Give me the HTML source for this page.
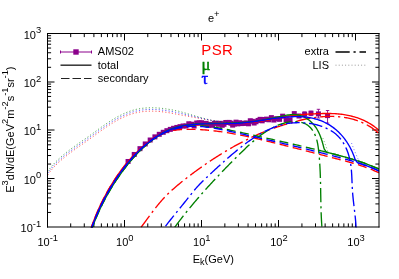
<!DOCTYPE html>
<html><head><meta charset="utf-8"><title>e+</title>
<style>html,body{margin:0;padding:0;background:#fff;width:399px;height:279px;overflow:hidden}body{position:relative;font-family:"Liberation Sans",sans-serif}</style>
</head><body>
<svg width="399" height="279" viewBox="0 0 399 279" style="position:absolute;left:0;top:0;will-change:transform">
<rect width="399" height="279" fill="#fff"/>
<defs><clipPath id="c"><rect x="47.5" y="33.5" width="331.5" height="194"/></clipPath></defs>
<g stroke="#000" stroke-width="1" fill="none">
<path d="M70.70,227.00 v-3.6 M70.70,33.50 v3.6"/>
<path d="M84.27,227.00 v-3.6 M84.27,33.50 v3.6"/>
<path d="M93.90,227.00 v-3.6 M93.90,33.50 v3.6"/>
<path d="M101.37,227.00 v-3.6 M101.37,33.50 v3.6"/>
<path d="M107.48,227.00 v-3.6 M107.48,33.50 v3.6"/>
<path d="M112.64,227.00 v-3.6 M112.64,33.50 v3.6"/>
<path d="M117.11,227.00 v-3.6 M117.11,33.50 v3.6"/>
<path d="M121.05,227.00 v-3.6 M121.05,33.50 v3.6"/>
<path d="M124.50,227.00 v-7 M124.50,33.50 v7"/>
<path d="M147.78,227.00 v-3.6 M147.78,33.50 v3.6"/>
<path d="M161.35,227.00 v-3.6 M161.35,33.50 v3.6"/>
<path d="M170.98,227.00 v-3.6 M170.98,33.50 v3.6"/>
<path d="M178.45,227.00 v-3.6 M178.45,33.50 v3.6"/>
<path d="M184.55,227.00 v-3.6 M184.55,33.50 v3.6"/>
<path d="M189.71,227.00 v-3.6 M189.71,33.50 v3.6"/>
<path d="M194.18,227.00 v-3.6 M194.18,33.50 v3.6"/>
<path d="M198.12,227.00 v-3.6 M198.12,33.50 v3.6"/>
<path d="M201.50,227.00 v-7 M201.50,33.50 v7"/>
<path d="M224.85,227.00 v-3.6 M224.85,33.50 v3.6"/>
<path d="M238.42,227.00 v-3.6 M238.42,33.50 v3.6"/>
<path d="M248.05,227.00 v-3.6 M248.05,33.50 v3.6"/>
<path d="M255.52,227.00 v-3.6 M255.52,33.50 v3.6"/>
<path d="M261.62,227.00 v-3.6 M261.62,33.50 v3.6"/>
<path d="M266.78,227.00 v-3.6 M266.78,33.50 v3.6"/>
<path d="M271.25,227.00 v-3.6 M271.25,33.50 v3.6"/>
<path d="M275.20,227.00 v-3.6 M275.20,33.50 v3.6"/>
<path d="M278.50,227.00 v-7 M278.50,33.50 v7"/>
<path d="M301.93,227.00 v-3.6 M301.93,33.50 v3.6"/>
<path d="M315.50,227.00 v-3.6 M315.50,33.50 v3.6"/>
<path d="M325.13,227.00 v-3.6 M325.13,33.50 v3.6"/>
<path d="M332.60,227.00 v-3.6 M332.60,33.50 v3.6"/>
<path d="M338.70,227.00 v-3.6 M338.70,33.50 v3.6"/>
<path d="M343.86,227.00 v-3.6 M343.86,33.50 v3.6"/>
<path d="M348.33,227.00 v-3.6 M348.33,33.50 v3.6"/>
<path d="M352.27,227.00 v-3.6 M352.27,33.50 v3.6"/>
<path d="M355.50,227.00 v-7 M355.50,33.50 v7"/>
<path d="M47.50,212.44 h3.6 M379.00,212.44 h-3.6"/>
<path d="M47.50,203.92 h3.6 M379.00,203.92 h-3.6"/>
<path d="M47.50,197.88 h3.6 M379.00,197.88 h-3.6"/>
<path d="M47.50,193.19 h3.6 M379.00,193.19 h-3.6"/>
<path d="M47.50,189.36 h3.6 M379.00,189.36 h-3.6"/>
<path d="M47.50,186.12 h3.6 M379.00,186.12 h-3.6"/>
<path d="M47.50,183.31 h3.6 M379.00,183.31 h-3.6"/>
<path d="M47.50,180.84 h3.6 M379.00,180.84 h-3.6"/>
<path d="M47.50,178.50 h7 M379.00,178.50 h-7"/>
<path d="M47.50,164.06 h3.6 M379.00,164.06 h-3.6"/>
<path d="M47.50,155.54 h3.6 M379.00,155.54 h-3.6"/>
<path d="M47.50,149.50 h3.6 M379.00,149.50 h-3.6"/>
<path d="M47.50,144.81 h3.6 M379.00,144.81 h-3.6"/>
<path d="M47.50,140.98 h3.6 M379.00,140.98 h-3.6"/>
<path d="M47.50,137.74 h3.6 M379.00,137.74 h-3.6"/>
<path d="M47.50,134.94 h3.6 M379.00,134.94 h-3.6"/>
<path d="M47.50,132.46 h3.6 M379.00,132.46 h-3.6"/>
<path d="M47.50,130.00 h7 M379.00,130.00 h-7"/>
<path d="M47.50,115.69 h3.6 M379.00,115.69 h-3.6"/>
<path d="M47.50,107.17 h3.6 M379.00,107.17 h-3.6"/>
<path d="M47.50,101.13 h3.6 M379.00,101.13 h-3.6"/>
<path d="M47.50,96.44 h3.6 M379.00,96.44 h-3.6"/>
<path d="M47.50,92.61 h3.6 M379.00,92.61 h-3.6"/>
<path d="M47.50,89.37 h3.6 M379.00,89.37 h-3.6"/>
<path d="M47.50,86.56 h3.6 M379.00,86.56 h-3.6"/>
<path d="M47.50,84.09 h3.6 M379.00,84.09 h-3.6"/>
<path d="M47.50,82.00 h7 M379.00,82.00 h-7"/>
<path d="M47.50,67.31 h3.6 M379.00,67.31 h-3.6"/>
<path d="M47.50,58.79 h3.6 M379.00,58.79 h-3.6"/>
<path d="M47.50,52.75 h3.6 M379.00,52.75 h-3.6"/>
<path d="M47.50,48.06 h3.6 M379.00,48.06 h-3.6"/>
<path d="M47.50,44.23 h3.6 M379.00,44.23 h-3.6"/>
<path d="M47.50,40.99 h3.6 M379.00,40.99 h-3.6"/>
<path d="M47.50,38.19 h3.6 M379.00,38.19 h-3.6"/>
<path d="M47.50,35.71 h3.6 M379.00,35.71 h-3.6"/>
</g>
<g clip-path="url(#c)" fill="none" stroke-linecap="butt" stroke-linejoin="round">
<rect x="125.57" y="158.99" width="5" height="5" fill="#8b008b" stroke="none"/>
<rect x="131.74" y="151.96" width="5" height="5" fill="#8b008b" stroke="none"/>
<rect x="137.48" y="146.16" width="5" height="5" fill="#8b008b" stroke="none"/>
<rect x="142.75" y="141.44" width="5" height="5" fill="#8b008b" stroke="none"/>
<rect x="147.69" y="137.51" width="5" height="5" fill="#8b008b" stroke="none"/>
<rect x="152.40" y="134.37" width="5" height="5" fill="#8b008b" stroke="none"/>
<rect x="156.77" y="131.82" width="5" height="5" fill="#8b008b" stroke="none"/>
<rect x="160.75" y="129.80" width="5" height="5" fill="#8b008b" stroke="none"/>
<rect x="164.39" y="128.18" width="5" height="5" fill="#8b008b" stroke="none"/>
<rect x="167.80" y="126.88" width="5" height="5" fill="#8b008b" stroke="none"/>
<rect x="171.09" y="125.80" width="5" height="5" fill="#8b008b" stroke="none"/>
<rect x="174.33" y="124.93" width="5" height="5" fill="#8b008b" stroke="none"/>
<rect x="177.51" y="124.15" width="5" height="5" fill="#8b008b" stroke="none"/>
<rect x="180.56" y="123.49" width="5" height="5" fill="#8b008b" stroke="none"/>
<rect x="183.49" y="123.46" width="5" height="5" fill="#8b008b" stroke="none"/>
<rect x="186.31" y="121.26" width="5" height="5" fill="#8b008b" stroke="none"/>
<rect x="189.02" y="121.74" width="5" height="5" fill="#8b008b" stroke="none"/>
<rect x="191.63" y="123.49" width="5" height="5" fill="#8b008b" stroke="none"/>
<rect x="194.17" y="120.49" width="5" height="5" fill="#8b008b" stroke="none"/>
<rect x="196.64" y="120.35" width="5" height="5" fill="#8b008b" stroke="none"/>
<rect x="199.03" y="120.24" width="5" height="5" fill="#8b008b" stroke="none"/>
<rect x="201.33" y="120.96" width="5" height="5" fill="#8b008b" stroke="none"/>
<rect x="203.58" y="120.91" width="5" height="5" fill="#8b008b" stroke="none"/>
<rect x="205.77" y="122.87" width="5" height="5" fill="#8b008b" stroke="none"/>
<rect x="207.91" y="121.85" width="5" height="5" fill="#8b008b" stroke="none"/>
<rect x="209.99" y="122.83" width="5" height="5" fill="#8b008b" stroke="none"/>
<rect x="212.02" y="120.83" width="5" height="5" fill="#8b008b" stroke="none"/>
<rect x="214.01" y="120.82" width="5" height="5" fill="#8b008b" stroke="none"/>
<rect x="215.95" y="121.82" width="5" height="5" fill="#8b008b" stroke="none"/>
<rect x="217.87" y="120.82" width="5" height="5" fill="#8b008b" stroke="none"/>
<rect x="219.73" y="122.81" width="5" height="5" fill="#8b008b" stroke="none"/>
<rect x="221.49" y="121.80" width="5" height="5" fill="#8b008b" stroke="none"/>
<rect x="223.25" y="119.98" width="5" height="5" fill="#8b008b" stroke="none"/>
<rect x="224.99" y="119.96" width="5" height="5" fill="#8b008b" stroke="none"/>
<rect x="226.73" y="119.93" width="5" height="5" fill="#8b008b" stroke="none"/>
<rect x="228.44" y="120.68" width="5" height="5" fill="#8b008b" stroke="none"/>
<rect x="230.14" y="122.62" width="5" height="5" fill="#8b008b" stroke="none"/>
<rect x="231.82" y="121.55" width="5" height="5" fill="#8b008b" stroke="none"/>
<rect x="233.54" y="119.66" width="5" height="5" fill="#8b008b" stroke="none"/>
<rect x="235.29" y="121.35" width="5" height="5" fill="#8b008b" stroke="none"/>
<rect x="237.01" y="120.23" width="5" height="5" fill="#8b008b" stroke="none"/>
<rect x="238.75" y="121.08" width="5" height="5" fill="#8b008b" stroke="none"/>
<rect x="240.54" y="120.91" width="5" height="5" fill="#8b008b" stroke="none"/>
<rect x="242.34" y="120.73" width="5" height="5" fill="#8b008b" stroke="none"/>
<rect x="244.13" y="120.52" width="5" height="5" fill="#8b008b" stroke="none"/>
<rect x="245.96" y="121.30" width="5" height="5" fill="#8b008b" stroke="none"/>
<rect x="247.80" y="118.26" width="5" height="5" fill="#8b008b" stroke="none"/>
<rect x="249.70" y="118.81" width="5" height="5" fill="#8b008b" stroke="none"/>
<rect x="251.61" y="120.54" width="5" height="5" fill="#8b008b" stroke="none"/>
<rect x="253.54" y="119.25" width="5" height="5" fill="#8b008b" stroke="none"/>
<rect x="255.55" y="117.95" width="5" height="5" fill="#8b008b" stroke="none"/>
<rect x="257.60" y="116.84" width="5" height="5" fill="#8b008b" stroke="none"/>
<rect x="259.69" y="118.32" width="5" height="5" fill="#8b008b" stroke="none"/>
<rect x="261.86" y="116.98" width="5" height="5" fill="#8b008b" stroke="none"/>
<rect x="264.10" y="116.63" width="5" height="5" fill="#8b008b" stroke="none"/>
<rect x="266.44" y="117.28" width="5" height="5" fill="#8b008b" stroke="none"/>
<rect x="268.90" y="115.11" width="5" height="5" fill="#8b008b" stroke="none"/>
<rect x="271.46" y="117.55" width="5" height="5" fill="#8b008b" stroke="none"/>
<rect x="274.18" y="116.18" width="5" height="5" fill="#8b008b" stroke="none"/>
<rect x="277.04" y="116.82" width="5" height="5" fill="#8b008b" stroke="none"/>
<rect x="280.13" y="113.67" width="5" height="5" fill="#8b008b" stroke="none"/>
<rect x="283.64" y="117.30" width="5" height="5" fill="#8b008b" stroke="none"/>
<rect x="287.54" y="117.30" width="5" height="5" fill="#8b008b" stroke="none"/>
<rect x="291.78" y="111.10" width="5" height="5" fill="#8b008b" stroke="none"/>
<rect x="296.54" y="113.50" width="5" height="5" fill="#8b008b" stroke="none"/>
<rect x="302.10" y="111.60" width="5" height="5" fill="#8b008b" stroke="none"/>
<rect x="308.49" y="110.70" width="5" height="5" fill="#8b008b" stroke="none"/>
<rect x="315.94" y="111.40" width="5" height="5" fill="#8b008b" stroke="none"/>
<rect x="325.06" y="113.10" width="5" height="5" fill="#8b008b" stroke="none"/>
<path d="M304.60,112.00 V116.30 M302.90,112.00 h3.4 M302.90,116.30 h3.4" stroke="#8b008b" stroke-width="0.9"/>
<path d="M310.99,111.20 V115.60 M309.29,111.20 h3.4 M309.29,115.60 h3.4" stroke="#8b008b" stroke-width="0.9"/>
<path d="M318.44,109.30 V118.00 M316.74,109.30 h3.4 M316.74,118.00 h3.4" stroke="#8b008b" stroke-width="0.9"/>
<path d="M327.56,110.50 V123.10 M325.86,110.50 h3.4 M325.86,123.10 h3.4" stroke="#8b008b" stroke-width="0.9"/>
<path d="M90.62,229.51 L91.04,228.24 L91.48,226.96 L91.92,225.69 L92.37,224.43 L92.83,223.16 L93.29,221.90 L93.77,220.65 L94.25,219.39 L94.74,218.14 L95.24,216.90 L95.75,215.65 L96.26,214.41 L96.78,213.18 L97.31,211.94 L97.85,210.71 L98.40,209.49 L98.95,208.26 L99.51,207.04 L100.08,205.83 L100.66,204.61 L101.24,203.41 L101.84,202.20 L102.44,201.00 L103.04,199.80 L103.66,198.61 L104.28,197.42 L104.90,196.23 L105.54,195.05 L106.18,193.87 L106.83,192.69 L107.49,191.52 L108.15,190.35 L108.82,189.19 L109.50,188.03 L110.18,186.87 L110.87,185.72 L111.57,184.57 L112.27,183.43 L112.98,182.29 L113.70,181.15 L114.43,180.02 L115.16,178.90 L115.89,177.78 L116.64,176.66 L117.39,175.55 L118.15,174.44 L118.92,173.34 L119.69,172.24 L120.47,171.17 L121.26,170.11 L122.05,169.05 L122.86,168.01 L123.67,166.97 L124.49,165.93 L125.32,164.91 L126.15,163.89 L126.99,162.87 L127.84,161.87 L128.70,160.87 L129.57,159.87 L130.44,158.89 L131.33,157.91 L132.22,156.94 L133.12,155.98 L134.03,155.02 L134.95,154.08 L135.87,153.14 L136.81,152.21 L137.75,151.28 L138.70,150.37 L139.66,149.47 L140.64,148.57 L141.62,147.68 L142.61,146.81 L143.61,145.94 L144.61,145.08 L145.63,144.24 L146.66,143.40 L147.71,142.58 L148.76,141.77 L149.82,140.97 L150.89,140.19 L151.98,139.42 L153.08,138.66 L154.18,137.91 L155.30,137.18 L156.43,136.47 L157.58,135.77 L158.73,135.10 L159.89,134.44 L161.06,133.80 L162.25,133.19 L163.44,132.60 L164.64,132.03 L165.85,131.49 L167.07,130.98 L168.29,130.49 L169.53,130.04 L170.77,129.61 L172.02,129.21 L173.27,128.83 L174.54,128.48 L175.81,128.13 L177.09,127.79 L178.37,127.47 L179.66,127.17 L180.95,126.89 L182.25,126.64 L183.56,126.40 L184.87,126.18 L186.18,125.98 L187.50,125.79 L188.83,125.63 L190.15,125.47 L191.49,125.34 L192.82,125.21 L194.16,125.10 L195.50,125.00 L196.84,124.91 L198.19,124.84 L199.54,124.77 L200.89,124.71 L202.24,124.65 L203.60,124.61 L204.95,124.57 L206.31,124.53 L207.67,124.50 L209.03,124.48 L210.38,124.45 L211.74,124.43 L213.10,124.41 L214.46,124.39 L215.81,124.37 L217.17,124.34 L218.52,124.32 L219.88,124.29 L221.23,124.25 L222.58,124.22 L223.93,124.17 L225.28,124.13 L226.62,124.08 L227.96,124.02 L229.31,123.96 L230.65,123.90 L231.99,123.83 L233.33,123.75 L234.66,123.68 L236.00,123.59 L237.34,123.50 L238.67,123.41 L240.00,123.31 L241.34,123.21 L242.67,123.10 L244.00,122.99 L245.33,122.87 L246.66,122.75 L247.98,122.62 L249.31,122.48 L250.64,122.34 L251.97,122.20 L253.29,122.05 L254.62,121.89 L255.94,121.73 L257.27,121.56 L258.59,121.39 L259.92,121.21 L261.24,121.03 L262.57,120.84 L263.89,120.64 L265.22,120.44 L266.54,120.24 L267.87,120.02 L269.19,119.80 L270.52,119.56 L271.84,119.28 L273.17,119.00 L274.49,118.71 L275.82,118.42 L277.15,118.13 L278.47,117.84 L279.80,117.55 L281.13,117.27 L282.46,117.04 L283.78,116.81 L285.11,116.59 L286.44,116.37 L287.77,116.17 L289.10,115.97 L290.43,115.79 L291.75,115.61 L293.08,115.45 L294.41,115.30 L295.74,115.16 L297.07,115.02 L298.41,114.90 L299.74,114.78 L301.07,114.67 L302.41,114.57 L303.74,114.47 L305.08,114.38 L306.42,114.29 L307.75,114.20 L309.09,114.12 L310.44,114.04 L311.78,113.97 L313.13,113.89 L314.47,113.82 L315.82,113.76 L317.17,113.70 L318.52,113.64 L319.86,113.59 L321.21,113.55 L322.56,113.52 L323.91,113.49 L325.26,113.48 L326.61,113.47 L327.96,113.48 L329.30,113.49 L330.65,113.52 L331.99,113.57 L333.33,113.62 L334.67,113.69 L336.01,113.77 L337.35,113.88 L338.68,113.99 L340.02,114.13 L341.34,114.28 L342.67,114.45 L343.99,114.64 L345.31,114.85 L346.63,115.08 L347.94,115.33 L349.25,115.60 L350.56,115.90 L351.86,116.22 L353.15,116.56 L354.44,116.93 L355.72,117.32 L357.00,117.73 L358.27,118.17 L359.53,118.63 L360.78,119.12 L362.02,119.63 L363.25,120.17 L364.47,120.73 L365.68,121.31 L366.87,121.93 L368.05,122.56 L369.22,123.23 L370.38,123.92 L371.52,124.63 L372.64,125.38 L373.75,126.14 L374.84,126.94 L375.91,127.76 L376.97,128.61 L378.00,129.49 L379.02,130.39 L380.01,131.32" stroke="#ff0000" stroke-width="1.35"/>
<path d="M90.60,229.47 L91.03,228.21 L91.47,226.95 L91.92,225.70 L92.38,224.44 L92.84,223.19 L93.31,221.93 L93.79,220.68 L94.27,219.44 L94.76,218.19 L95.26,216.95 L95.77,215.71 L96.28,214.47 L96.80,213.23 L97.33,212.00 L97.87,210.77 L98.41,209.54 L98.96,208.32 L99.52,207.10 L100.09,205.88 L100.66,204.66 L101.24,203.45 L101.83,202.24 L102.42,201.04 L103.02,199.83 L103.63,198.64 L104.25,197.44 L104.87,196.25 L105.50,195.06 L106.14,193.88 L106.79,192.70 L107.44,191.53 L108.10,190.35 L108.77,189.19 L109.45,188.03 L110.13,186.87 L110.82,185.72 L111.52,184.57 L112.22,183.42 L112.93,182.28 L113.65,181.15 L114.38,180.02 L115.11,178.90 L115.85,177.78 L116.60,176.66 L117.36,175.55 L118.12,174.45 L118.89,173.35 L119.67,172.26 L120.46,171.19 L121.25,170.13 L122.05,169.08 L122.86,168.04 L123.67,167.00 L124.49,165.97 L125.32,164.94 L126.16,163.92 L127.00,162.91 L127.85,161.90 L128.71,160.90 L129.58,159.91 L130.45,158.93 L131.33,157.95 L132.22,156.97 L133.11,156.01 L134.02,155.05 L134.93,154.10 L135.85,153.16 L136.78,152.23 L137.71,151.30 L138.66,150.38 L139.61,149.47 L140.58,148.57 L141.55,147.68 L142.54,146.80 L143.53,145.92 L144.54,145.06 L145.56,144.20 L146.58,143.36 L147.62,142.52 L148.67,141.70 L149.74,140.88 L150.81,140.08 L151.89,139.29 L152.99,138.52 L154.09,137.76 L155.21,137.02 L156.34,136.30 L157.48,135.62 L158.64,134.97 L159.82,134.37 L161.01,133.81 L162.22,133.30 L163.45,132.83 L164.69,132.41 L165.94,132.03 L167.21,131.69 L168.48,131.37 L169.77,131.06 L171.07,130.79 L172.38,130.54 L173.70,130.33 L175.02,130.14 L176.35,129.98 L177.69,129.84 L179.03,129.73 L180.38,129.63 L181.72,129.55 L183.07,129.49 L184.42,129.45 L185.78,129.41 L187.13,129.39 L188.47,129.37 L189.82,129.37 L191.17,129.38 L192.51,129.39 L193.86,129.42 L195.20,129.45 L196.54,129.49 L197.89,129.55 L199.23,129.61 L200.57,129.68 L201.91,129.76 L203.24,129.84 L204.58,129.94 L205.92,130.04 L207.25,130.15 L208.59,130.27 L209.92,130.40 L211.25,130.53 L212.59,130.67 L213.92,130.82 L215.25,130.98 L216.58,131.14 L217.90,131.31 L219.23,131.48 L220.56,131.67 L221.89,131.85 L223.21,132.05 L224.54,132.25 L225.86,132.46 L227.18,132.67 L228.51,132.89 L229.83,133.11 L231.15,133.34 L232.47,133.58 L233.79,133.81 L235.11,134.06 L236.43,134.31 L237.74,134.56 L239.06,134.82 L240.38,135.08 L241.69,135.35 L243.01,135.62 L244.32,135.89 L245.64,136.17 L246.95,136.45 L248.26,136.73 L249.58,137.02 L250.89,137.31 L252.20,137.60 L253.51,137.90 L254.82,138.20 L256.13,138.50 L257.44,138.80 L258.75,139.11 L260.06,139.42 L261.36,139.73 L262.67,140.04 L263.98,140.35 L265.28,140.67 L266.59,140.98 L267.89,141.30 L269.20,141.62 L270.50,141.94 L271.81,142.26 L273.11,142.58 L274.42,142.90 L275.72,143.22 L277.02,143.54 L278.33,143.87 L279.63,144.19 L280.93,144.51 L282.23,144.84 L283.53,145.17 L284.83,145.49 L286.13,145.82 L287.44,146.15 L288.74,146.47 L290.04,146.80 L291.34,147.13 L292.64,147.46 L293.94,147.79 L295.23,148.12 L296.53,148.45 L297.83,148.78 L299.13,149.11 L300.43,149.45 L301.73,149.78 L303.03,150.11 L304.33,150.44 L305.63,150.78 L306.92,151.11 L308.22,151.44 L309.52,151.78 L310.82,152.11 L312.12,152.45 L313.42,152.78 L314.71,153.12 L316.01,153.45 L317.31,153.79 L318.61,154.12 L319.91,154.46 L321.21,154.79 L322.50,155.13 L323.80,155.46 L325.10,155.80 L326.40,156.13 L327.70,156.47 L329.00,156.80 L330.30,157.14 L331.60,157.47 L332.90,157.81 L334.20,158.14 L335.50,158.48 L336.80,158.81 L338.10,159.15 L339.40,159.48 L340.70,159.82 L342.00,160.16 L343.30,160.50 L344.59,160.85 L345.89,161.19 L347.19,161.54 L348.48,161.90 L349.77,162.26 L351.07,162.62 L352.36,162.99 L353.64,163.37 L354.93,163.75 L356.21,164.14 L357.49,164.53 L358.77,164.93 L360.05,165.35 L361.32,165.77 L362.59,166.19 L363.86,166.63 L365.12,167.08 L366.38,167.53 L367.64,168.00 L368.90,168.48 L370.14,168.97 L371.39,169.47 L372.63,169.99 L373.87,170.52 L375.10,171.06 L376.33,171.61 L377.55,172.18 L378.77,172.76 L379.98,173.36" stroke="#ff0000" stroke-width="1.35" stroke-dasharray="9 4.5" stroke-dashoffset="1.05"/>
<path d="M139.01,229.99 L139.67,229.13 L140.33,228.27 L140.99,227.40 L141.65,226.53 L142.30,225.65 L142.95,224.77 L143.61,223.89 L144.26,223.01 L144.91,222.13 L145.56,221.24 L146.21,220.36 L146.86,219.47 L147.51,218.58 L148.16,217.70 L148.81,216.81 L149.46,215.92 L150.12,215.04 L150.77,214.15 L151.43,213.27 L152.09,212.39 L152.76,211.51 L153.42,210.63 L154.09,209.76 L154.77,208.89 L155.45,208.02 L156.13,207.16 L156.81,206.30 L157.50,205.44 L158.20,204.59 L158.90,203.75 L159.60,202.91 L160.32,202.07 L161.03,201.25 L161.76,200.42 L162.49,199.61 L163.22,198.80 L163.97,198.00 L164.72,197.20 L165.48,196.42 L166.24,195.64 L167.01,194.86 L167.79,194.09 L168.57,193.33 L169.36,192.58 L170.16,191.83 L170.96,191.08 L171.76,190.34 L172.57,189.61 L173.39,188.88 L174.21,188.16 L175.04,187.44 L175.86,186.73 L176.70,186.02 L177.53,185.31 L178.38,184.61 L179.22,183.91 L180.07,183.22 L180.92,182.53 L181.77,181.84 L182.63,181.16 L183.49,180.47 L184.35,179.80 L185.22,179.12 L186.08,178.45 L186.95,177.78 L187.82,177.11 L188.69,176.44 L189.57,175.78 L190.44,175.11 L191.32,174.45 L192.20,173.79 L193.08,173.14 L193.96,172.48 L194.84,171.83 L195.72,171.18 L196.61,170.53 L197.50,169.89 L198.39,169.24 L199.28,168.60 L200.17,167.97 L201.07,167.33 L201.97,166.70 L202.86,166.06 L203.76,165.44 L204.67,164.81 L205.57,164.18 L206.47,163.56 L207.38,162.94 L208.29,162.33 L209.20,161.71 L210.11,161.10 L211.02,160.49 L211.94,159.89 L212.86,159.29 L213.78,158.69 L214.70,158.09 L215.62,157.49 L216.54,156.90 L217.47,156.31 L218.40,155.72 L219.32,155.14 L220.26,154.56 L221.19,153.98 L222.12,153.41 L223.06,152.83 L224.00,152.27 L224.94,151.70 L225.88,151.14 L226.82,150.58 L227.77,150.02 L228.71,149.47 L229.66,148.91 L230.61,148.37 L231.56,147.82 L232.52,147.28 L233.47,146.74 L234.43,146.21 L235.39,145.68 L236.35,145.15 L237.31,144.62 L238.28,144.10 L239.24,143.58 L240.21,143.07 L241.18,142.56 L242.15,142.05 L243.12,141.55 L244.10,141.04 L245.08,140.55 L246.06,140.05 L247.04,139.56 L248.02,139.08 L249.00,138.59 L249.99,138.11 L250.98,137.64 L251.97,137.17 L252.96,136.70 L253.95,136.24 L254.95,135.78 L255.95,135.32 L256.94,134.87 L257.95,134.43 L258.95,133.99 L259.95,133.55 L260.96,133.12 L261.97,132.69 L262.98,132.27 L264.00,131.85 L265.01,131.44 L266.03,131.04 L267.05,130.64 L268.07,130.24 L269.10,129.86 L270.12,129.47 L271.15,129.10 L272.18,128.73 L273.21,128.36 L274.25,128.00 L275.28,127.65 L276.32,127.30 L277.36,126.95 L278.40,126.61 L279.44,126.28 L280.49,125.95 L281.53,125.62 L282.58,125.29 L283.62,124.97 L284.67,124.65 L285.71,124.33 L286.76,124.01 L287.80,123.70 L288.85,123.39 L289.89,123.08 L290.94,122.78 L291.99,122.48 L293.04,122.18 L294.09,121.89 L295.14,121.61 L296.19,121.32 L297.25,121.05 L298.31,120.78 L299.37,120.51 L300.43,120.25 L301.49,120.00 L302.56,119.75 L303.63,119.51 L304.70,119.28 L305.77,119.05 L306.85,118.84 L307.93,118.63 L309.02,118.43 L310.10,118.23 L311.19,118.05 L312.28,117.87 L313.38,117.71 L314.47,117.55 L315.57,117.40 L316.67,117.26 L317.77,117.13 L318.87,117.01 L319.97,116.90 L321.07,116.80 L322.18,116.71 L323.28,116.64 L324.39,116.57 L325.49,116.51 L326.60,116.46 L327.70,116.43 L328.80,116.41 L329.91,116.40 L331.01,116.40 L332.11,116.41 L333.21,116.43 L334.31,116.47 L335.40,116.52 L336.50,116.58 L337.59,116.65 L338.68,116.74 L339.77,116.84 L340.86,116.96 L341.94,117.09 L343.02,117.23 L344.10,117.38 L345.17,117.55 L346.25,117.74 L347.31,117.94 L348.38,118.15 L349.44,118.38 L350.49,118.62 L351.54,118.88 L352.59,119.16 L353.63,119.45 L354.67,119.75 L355.70,120.07 L356.73,120.41 L357.75,120.77 L358.76,121.14 L359.77,121.52 L360.78,121.93 L361.77,122.35 L362.77,122.79 L363.75,123.24 L364.73,123.72 L365.70,124.21 L366.66,124.72 L367.62,125.25 L368.57,125.79 L369.51,126.36 L370.44,126.94 L371.37,127.54 L372.29,128.16 L373.20,128.80 L374.10,129.46 L374.99,130.14 L375.87,130.84 L376.74,131.56 L377.61,132.30 L378.46,133.06 L379.31,133.84 L380.14,134.64" stroke="#ff0000" stroke-width="1.35" stroke-dasharray="14.2 3.8 2.2 3.8" stroke-dashoffset="20.55"/>
<path d="M45.92,177.70 L46.51,176.74 L47.11,175.80 L47.73,174.87 L48.36,173.96 L49.01,173.06 L49.67,172.18 L50.35,171.31 L51.03,170.45 L51.73,169.61 L52.45,168.78 L53.17,167.96 L53.90,167.15 L54.65,166.35 L55.41,165.57 L56.17,164.80 L56.95,164.03 L57.73,163.28 L58.53,162.54 L59.33,161.80 L60.13,161.07 L60.95,160.35 L61.77,159.64 L62.60,158.94 L63.43,158.24 L64.27,157.55 L65.11,156.86 L65.96,156.18 L66.81,155.51 L67.67,154.84 L68.53,154.18 L69.39,153.52 L70.26,152.86 L71.13,152.21 L72.01,151.57 L72.89,150.92 L73.77,150.28 L74.65,149.64 L75.54,149.01 L76.42,148.37 L77.31,147.74 L78.20,147.11 L79.10,146.48 L79.99,145.85 L80.89,145.22 L81.78,144.60 L82.68,143.97 L83.58,143.34 L84.47,142.71 L85.37,142.08 L86.27,141.45 L87.16,140.82 L88.06,140.18 L88.95,139.54 L89.84,138.91 L90.74,138.26 L91.63,137.62 L92.52,136.97 L93.41,136.33 L94.30,135.68 L95.19,135.03 L96.08,134.38 L96.97,133.73 L97.86,133.08 L98.75,132.43 L99.64,131.79 L100.53,131.15 L101.43,130.50 L102.33,129.87 L103.23,129.23 L104.13,128.60 L105.03,127.97 L105.94,127.35 L106.85,126.73 L107.77,126.12 L108.69,125.51 L109.61,124.91 L110.53,124.31 L111.47,123.73 L112.40,123.15 L113.34,122.57 L114.29,122.01 L115.24,121.45 L116.19,120.91 L117.16,120.37 L118.12,119.84 L119.10,119.33 L120.08,118.82 L121.06,118.33 L122.05,117.85 L123.05,117.38 L124.05,116.92 L125.06,116.48 L126.07,116.05 L127.08,115.64 L128.10,115.25 L129.13,114.87 L130.16,114.51 L131.19,114.16 L132.22,113.83 L133.26,113.53 L134.31,113.24 L135.35,112.97 L136.40,112.72 L137.45,112.50 L138.51,112.29 L139.57,112.10 L140.63,111.93 L141.69,111.77 L142.75,111.64 L143.82,111.52 L144.89,111.42 L145.96,111.34 L147.04,111.27 L148.11,111.22 L149.19,111.18 L150.27,111.16 L151.35,111.15 L152.43,111.16 L153.52,111.18 L154.60,111.21 L155.69,111.26 L156.78,111.32 L157.86,111.40 L158.95,111.48 L160.04,111.58 L161.13,111.68 L162.22,111.80 L163.32,111.93 L164.41,112.07 L165.50,112.22 L166.59,112.37 L167.68,112.54 L168.77,112.71 L169.87,112.89 L170.96,113.08 L172.05,113.28 L173.14,113.48 L174.23,113.69 L175.32,113.91 L176.40,114.13 L177.49,114.35 L178.58,114.55 L179.66,114.74 L180.74,114.92 L181.83,115.11 L182.91,115.30 L183.99,115.50 L185.06,115.69 L186.14,115.89 L187.21,116.09 L188.28,116.30 L189.35,116.50 L190.42,116.70 L191.49,116.91 L192.55,117.11 L193.62,117.32 L194.68,117.52 L195.74,117.72 L196.80,117.92 L197.86,118.12 L198.93,118.32 L199.99,118.52 L201.04,118.71 L202.10,118.90 L203.16,119.09 L204.22,119.27 L205.28,119.45 L206.34,119.62 L207.40,119.79 L208.46,119.96 L209.53,120.12 L210.59,120.27 L211.65,120.42 L212.72,120.60 L213.78,120.79 L214.85,120.97 L215.92,121.14 L216.99,121.31 L218.06,121.47 L219.13,121.62 L220.21,121.76 L221.29,121.90 L222.37,122.02 L223.45,122.13 L224.54,122.24 L225.62,122.33 L226.71,122.42 L227.81,122.49 L228.90,122.55 L230.00,122.60 L231.10,122.64 L232.21,122.67 L233.32,122.68 L234.43,122.69 L235.55,122.67 L236.67,122.65 L237.79,122.61 L238.92,122.56 L240.06,122.49" stroke="#ff0000" stroke-width="1" stroke-dasharray="1.1 2.2" opacity="0.7"/>
<path d="M90.61,232.52 L90.99,231.39 L91.37,230.26 L91.76,229.14 L92.16,228.01 L92.56,226.89 L92.97,225.77 L93.38,224.66 L93.81,223.55 L94.23,222.44 L94.67,221.33 L95.10,220.23 L95.55,219.13 L96.00,218.04 L96.46,216.94 L96.92,215.85 L97.39,214.76 L97.87,213.68 L98.35,212.60 L98.84,211.52 L99.33,210.44 L99.83,209.37 L100.33,208.30 L100.84,207.23 L101.36,206.17 L101.88,205.10 L102.41,204.04 L102.94,202.99 L103.48,201.94 L104.03,200.88 L104.58,199.84 L105.14,198.79 L105.70,197.75 L106.27,196.71 L106.84,195.68 L107.42,194.64 L108.00,193.61 L108.59,192.58 L109.19,191.56 L109.79,190.54 L110.40,189.52 L111.01,188.50 L111.63,187.49 L112.25,186.47 L112.88,185.47 L113.51,184.46 L114.15,183.46 L114.79,182.46 L115.44,181.46 L116.10,180.47 L116.76,179.48 L117.43,178.50 L118.10,177.52 L118.78,176.54 L119.46,175.56 L120.15,174.59 L120.84,173.60 L121.54,172.62 L122.25,171.64 L122.96,170.66 L123.68,169.69 L124.41,168.72 L125.14,167.76 L125.87,166.80 L126.62,165.85 L127.37,164.90 L128.12,163.96 L128.88,163.03 L129.65,162.09 L130.42,161.17 L131.20,160.25 L131.99,159.34 L132.78,158.43 L133.58,157.53 L134.38,156.63 L135.20,155.75 L136.01,154.86 L136.84,153.99 L137.67,153.12 L138.51,152.26 L139.35,151.40 L140.20,150.55 L141.06,149.71 L141.93,148.88 L142.80,148.06 L143.68,147.24 L144.57,146.43 L145.46,145.63 L146.37,144.83 L147.28,144.05 L148.20,143.27 L149.13,142.50 L150.07,141.74 L151.02,140.99 L151.98,140.25 L152.95,139.51 L153.92,138.79 L154.91,138.08 L155.91,137.37 L156.91,136.68 L157.93,136.00 L158.95,135.34 L159.98,134.69 L161.02,134.05 L162.07,133.44 L163.12,132.83 L164.19,132.25 L165.25,131.69 L166.33,131.14 L167.41,130.62 L168.50,130.11 L169.59,129.63 L170.69,129.17 L171.80,128.73 L172.91,128.31 L174.02,127.91 L175.14,127.53 L176.27,127.21 L177.40,126.90 L178.53,126.62 L179.67,126.34 L180.81,126.09 L181.96,125.85 L183.11,125.63 L184.27,125.42 L185.43,125.23 L186.59,125.05 L187.75,124.88 L188.92,124.72 L190.09,124.58 L191.27,124.45 L192.44,124.33 L193.62,124.22 L194.81,124.12 L195.99,124.04 L197.18,123.95 L198.37,123.88 L199.55,123.82 L200.75,123.76 L201.94,123.71 L203.13,123.67 L204.33,123.63 L205.53,123.59 L206.72,123.56 L207.92,123.54 L209.12,123.52 L210.32,123.50 L211.52,123.48 L212.72,123.46 L213.91,123.45 L215.11,123.44 L216.31,123.42 L217.51,123.41 L218.70,123.40 L219.90,123.38 L221.09,123.36 L222.29,123.34 L223.48,123.32 L224.67,123.30 L225.86,123.27 L227.05,123.24 L228.24,123.20 L229.43,123.17 L230.61,123.13 L231.80,123.08 L232.98,123.03 L234.17,122.98 L235.35,122.93 L236.53,122.87 L237.71,122.80 L238.89,122.73 L240.07,122.66 L241.25,122.58 L242.43,122.50 L243.60,122.41 L244.78,122.31 L245.95,122.21 L247.13,122.11 L248.30,121.99 L249.47,121.87 L250.64,121.75 L251.81,121.62 L252.98,121.48 L254.15,121.34 L255.32,121.19 L256.49,121.03 L257.65,120.86 L258.82,120.69 L259.99,120.51 L261.15,120.32 L262.32,120.12 L263.48,119.92 L264.64,119.71 L265.81,119.48 L266.97,119.25 L268.13,119.02 L269.29,118.77 L270.45,118.53 L271.61,118.30 L272.77,118.07 L273.93,117.84 L275.09,117.60 L276.25,117.36 L277.42,117.12 L278.58,116.88 L279.75,116.65 L280.92,116.42 L282.09,116.16 L283.27,115.90 L284.45,115.66 L285.63,115.42 L286.82,115.20 L288.00,115.01 L289.19,114.83 L290.38,114.69 L291.56,114.59 L292.74,114.53 L293.92,114.52 L295.08,114.56 L296.24,114.66 L297.38,114.82 L298.51,115.03 L299.63,115.31 L300.74,115.64 L301.83,116.03 L302.90,116.47 L303.95,116.95 L304.99,117.49 L306.00,118.07 L307.00,118.70 L307.97,119.36 L308.91,120.07 L309.84,120.82 L310.73,121.60 L311.60,122.42 L312.44,123.28 L313.25,124.16 L314.03,125.07 L314.78,126.01 L315.49,126.98 L316.17,127.97 L316.82,128.98 L317.43,130.01 L318.01,131.06 L318.56,132.13 L319.08,133.21 L319.57,134.31 L320.03,135.42 L320.47,136.53 L320.89,137.66 L321.29,138.79 L321.66,139.92 L322.02,141.06 L322.36,142.20 L322.69,143.34 L323.01,144.47 L323.31,145.61 L323.60,146.73 L323.89,147.85 L324.16,148.96 L326.38,152.16 L327.69,152.49 L328.99,152.82 L330.29,153.16 L331.60,153.49 L332.90,153.83 L334.20,154.17 L335.50,154.51 L336.80,154.85 L338.10,155.20 L339.39,155.54 L340.69,155.89 L341.99,156.25 L343.28,156.60 L344.57,156.96 L345.87,157.32 L347.16,157.69 L348.44,158.06 L349.73,158.44 L351.02,158.82 L352.30,159.20 L353.59,159.59 L354.87,159.99 L356.15,160.39 L357.42,160.80 L358.70,161.22 L359.97,161.64 L361.24,162.07 L362.51,162.50 L363.78,162.94 L365.04,163.40 L366.30,163.85 L367.56,164.32 L368.82,164.80 L370.07,165.28 L371.32,165.78 L372.57,166.28 L373.82,166.79 L375.06,167.32 L376.30,167.85 L377.54,168.40 L378.77,168.95 L380.00,169.52" stroke="#008000" stroke-width="1.35"/>
<path d="M90.56,232.50 L91.01,231.23 L91.46,229.96 L91.92,228.69 L92.38,227.42 L92.85,226.16 L93.33,224.90 L93.81,223.65 L94.30,222.40 L94.80,221.14 L95.30,219.90 L95.81,218.65 L96.33,217.41 L96.85,216.17 L97.39,214.94 L97.92,213.71 L98.47,212.48 L99.02,211.25 L99.58,210.03 L100.15,208.81 L100.72,207.60 L101.30,206.39 L101.88,205.18 L102.48,203.98 L103.08,202.78 L103.69,201.58 L104.30,200.39 L104.92,199.20 L105.55,198.01 L106.19,196.83 L106.83,195.66 L107.49,194.48 L108.14,193.32 L108.81,192.15 L109.48,190.99 L110.16,189.84 L110.85,188.68 L111.54,187.54 L112.25,186.40 L112.96,185.26 L113.67,184.12 L114.40,183.00 L115.13,181.87 L115.87,180.75 L116.62,179.64 L117.37,178.53 L118.13,177.42 L118.90,176.32 L119.68,175.23 L120.47,174.12 L121.26,173.02 L122.06,171.91 L122.87,170.81 L123.68,169.72 L124.51,168.63 L125.34,167.54 L126.18,166.46 L127.02,165.39 L127.88,164.32 L128.74,163.26 L129.61,162.20 L130.49,161.15 L131.38,160.10 L132.27,159.06 L133.17,158.03 L134.08,157.00 L135.00,155.98 L135.93,154.96 L136.87,153.96 L137.81,152.96 L138.77,151.97 L139.73,151.00 L140.70,150.03 L141.69,149.07 L142.68,148.13 L143.68,147.20 L144.70,146.28 L145.72,145.37 L146.75,144.48 L147.80,143.60 L148.85,142.73 L149.92,141.88 L150.99,141.05 L152.08,140.23 L153.18,139.43 L154.29,138.65 L155.42,137.89 L156.55,137.14 L157.70,136.42 L158.86,135.71 L160.03,135.02 L161.21,134.36 L162.41,133.71 L163.62,133.09 L164.84,132.49 L166.07,131.90 L167.31,131.35 L168.56,130.83 L169.82,130.35 L171.08,129.90 L172.36,129.47 L173.64,129.06 L174.93,128.68 L176.22,128.31 L177.52,127.98 L178.83,127.66 L180.14,127.37 L181.45,127.11 L182.77,126.87 L184.09,126.65 L185.41,126.45 L186.74,126.29 L188.06,126.14 L189.39,126.02 L190.72,125.92 L192.05,125.85 L193.38,125.80 L194.72,125.76 L196.05,125.75 L197.39,125.76 L198.72,125.78 L200.06,125.83 L201.40,125.89 L202.73,125.97 L204.07,126.06 L205.41,126.17 L206.75,126.30 L208.09,126.44 L209.43,126.59 L210.77,126.76 L212.10,126.93 L213.44,127.12 L214.78,127.32 L216.12,127.53 L217.46,127.75 L218.79,127.98 L220.13,128.21 L221.46,128.46 L222.80,128.70 L224.13,128.96 L225.46,129.22 L226.79,129.48 L228.12,129.75 L229.45,130.02 L230.78,130.30 L232.10,130.57 L233.43,130.85 L234.75,131.13 L236.07,131.41 L237.39,131.69 L238.70,131.97 L240.02,132.25 L241.33,132.53 L242.65,132.81 L243.96,133.10 L245.27,133.38 L246.58,133.67 L247.89,133.96 L249.20,134.24 L250.51,134.53 L251.82,134.82 L253.12,135.11 L254.43,135.40 L255.73,135.69 L257.04,135.98 L258.35,136.27 L259.65,136.56 L260.96,136.86 L262.26,137.15 L263.57,137.44 L264.87,137.74 L266.18,138.03 L267.48,138.32 L268.79,138.62 L270.09,138.91 L271.40,139.21 L272.71,139.50 L274.01,139.80 L275.32,140.09 L276.63,140.39 L277.94,140.68 L279.25,140.98 L280.56,141.28 L281.87,141.58 L283.18,141.87 L284.49,142.17 L285.80,142.47 L287.11,142.77 L288.42,143.07 L289.73,143.37 L291.04,143.67 L292.35,143.97 L293.66,144.28 L294.97,144.58 L296.28,144.88 L297.59,145.19 L298.91,145.49 L300.22,145.80 L301.53,146.11 L302.84,146.42 L304.15,146.73 L305.46,147.04 L306.77,147.35 L308.08,147.66 L309.39,147.97 L310.70,148.29 L312.01,148.60 L313.32,148.92 L314.63,149.24 L315.93,149.56 L317.24,149.88 L318.55,150.20 L319.86,150.52 L321.16,150.85 L322.47,151.17 L323.77,151.50 L325.08,151.83 L326.38,152.16 L327.69,152.49 L328.99,152.82 L330.29,153.16 L331.60,153.49 L332.90,153.83 L334.20,154.17 L335.50,154.51 L336.80,154.85 L338.10,155.20 L339.39,155.54 L340.69,155.89 L341.99,156.25 L343.28,156.60 L344.57,156.96 L345.87,157.32 L347.16,157.69 L348.44,158.06 L349.73,158.44 L351.02,158.82 L352.30,159.20 L353.59,159.59 L354.87,159.99 L356.15,160.39 L357.42,160.80 L358.70,161.22 L359.97,161.64 L361.24,162.07 L362.51,162.50 L363.78,162.94 L365.04,163.40 L366.30,163.85 L367.56,164.32 L368.82,164.80 L370.07,165.28 L371.32,165.78 L372.57,166.28 L373.82,166.79 L375.06,167.32 L376.30,167.85 L377.54,168.40 L378.77,168.95 L380.00,169.52" stroke="#008000" stroke-width="1.35" stroke-dasharray="9 4.5" stroke-dashoffset="11.98"/>
<path d="M172.65,230.06 L173.31,229.15 L173.97,228.24 L174.63,227.34 L175.30,226.44 L175.97,225.53 L176.64,224.64 L177.31,223.74 L177.99,222.85 L178.67,221.95 L179.34,221.06 L180.03,220.17 L180.71,219.29 L181.39,218.40 L182.08,217.52 L182.77,216.64 L183.46,215.76 L184.15,214.88 L184.85,214.01 L185.55,213.13 L186.24,212.26 L186.95,211.39 L187.65,210.52 L188.35,209.66 L189.06,208.79 L189.77,207.93 L190.48,207.06 L191.19,206.20 L191.90,205.35 L192.62,204.49 L193.33,203.63 L194.05,202.78 L194.77,201.93 L195.50,201.07 L196.22,200.23 L196.95,199.38 L197.67,198.53 L198.40,197.69 L199.13,196.84 L199.87,196.00 L200.60,195.16 L201.34,194.32 L202.08,193.48 L202.81,192.64 L203.56,191.81 L204.30,190.97 L205.04,190.14 L205.79,189.31 L206.53,188.48 L207.28,187.65 L208.03,186.82 L208.78,186.00 L209.54,185.17 L210.29,184.35 L211.05,183.52 L211.81,182.70 L212.57,181.88 L213.33,181.06 L214.09,180.24 L214.85,179.42 L215.62,178.60 L216.38,177.79 L217.15,176.97 L217.92,176.16 L218.69,175.35 L219.46,174.53 L220.23,173.72 L221.01,172.91 L221.78,172.10 L222.56,171.30 L223.34,170.49 L224.12,169.68 L224.90,168.88 L225.68,168.07 L226.46,167.27 L227.25,166.47 L228.03,165.67 L228.82,164.87 L229.60,164.07 L230.39,163.27 L231.18,162.48 L231.97,161.68 L232.76,160.89 L233.55,160.10 L234.34,159.31 L235.13,158.52 L235.93,157.73 L236.72,156.94 L237.52,156.15 L238.31,155.37 L239.11,154.59 L239.91,153.80 L240.70,153.02 L241.50,152.24 L242.30,151.47 L243.10,150.69 L243.90,149.92 L244.71,149.14 L245.51,148.37 L246.32,147.61 L247.12,146.84 L247.94,146.08 L248.75,145.33 L249.57,144.58 L250.39,143.83 L251.21,143.09 L252.04,142.35 L252.88,141.62 L253.72,140.89 L254.56,140.17 L255.41,139.46 L256.27,138.75 L257.13,138.05 L258.00,137.36 L258.87,136.67 L259.76,135.99 L260.65,135.32 L261.54,134.66 L262.45,134.01 L263.36,133.37 L264.29,132.74 L265.22,132.11 L266.16,131.50 L267.11,130.90 L268.07,130.30 L269.04,129.72 L270.02,129.15 L271.01,128.60 L272.02,128.05 L273.02,127.52 L274.04,127.01 L275.07,126.52 L276.10,126.04 L277.14,125.58 L278.19,125.14 L279.25,124.72 L280.31,124.33 L281.37,123.95 L282.44,123.60 L283.52,123.28 L284.60,122.98 L285.68,122.71 L286.77,122.47 L287.86,122.25 L288.95,122.07 L290.04,121.92 L291.14,121.80 L292.23,121.71 L293.33,121.66 L294.43,121.64 L295.53,121.66 L296.63,121.71 L297.72,121.81 L298.82,121.94 L299.91,122.12 L300.99,122.33 L302.07,122.60 L303.13,122.92 L304.17,123.29 L305.19,123.73 L306.17,124.23 L307.13,124.80 L308.04,125.44 L308.91,126.15 L309.74,126.92 L310.53,127.75 L311.28,128.62 L311.98,129.53 L312.64,130.47 L313.25,131.43 L313.82,132.41 L314.35,133.40 L314.83,134.41 L315.27,135.43 L315.68,136.46 L316.05,137.50 L316.39,138.56 L316.70,139.62 L316.98,140.69 L317.24,141.77 L317.47,142.85 L317.68,143.95 L317.88,145.04 L318.05,146.14 L318.21,147.25 L318.36,148.36 L318.50,149.47 L318.62,150.58 L318.75,151.69 L318.86,152.81 L318.98,153.92 L319.08,155.03 L319.19,156.15 L319.28,157.26 L319.38,158.38 L319.46,159.49 L319.55,160.61 L319.63,161.72 L319.70,162.84 L319.77,163.95 L319.84,165.07 L319.90,166.18 L319.96,167.30 L320.02,168.42 L320.07,169.53 L320.12,170.65 L320.17,171.77 L320.22,172.89 L320.26,174.00 L320.30,175.12 L320.33,176.24 L320.37,177.36 L320.40,178.47 L320.43,179.59 L320.46,180.71 L320.49,181.83 L320.52,182.95 L320.54,184.07 L320.56,185.18 L320.58,186.30 L320.61,187.42 L320.63,188.54 L320.65,189.66 L320.67,190.78 L320.68,191.90 L320.70,193.02 L320.72,194.14 L320.74,195.25 L320.76,196.37 L320.78,197.49 L320.80,198.61 L320.82,199.73 L320.84,200.85 L320.86,201.97 L320.88,203.08 L320.91,204.20 L320.93,205.32 L320.96,206.44 L320.99,207.56 L321.02,208.67 L321.05,209.79 L321.09,210.91 L321.12,212.03 L321.16,213.15 L321.20,214.26 L321.25,215.38 L321.29,216.50 L321.34,217.61 L321.40,218.73 L321.45,219.85 L321.51,220.96 L321.58,222.08 L321.64,223.19 L321.71,224.31 L321.79,225.42 L321.87,226.54 L321.95,227.65 L322.04,228.77 L322.13,229.88 L322.23,230.99" stroke="#008000" stroke-width="1.35" stroke-dasharray="14.377 3.847 2.227 3.847" stroke-dashoffset="20.78"/>
<path d="M45.92,174.30 L46.51,173.34 L47.11,172.40 L47.73,171.47 L48.36,170.56 L49.01,169.66 L49.67,168.78 L50.35,167.91 L51.03,167.05 L51.73,166.21 L52.45,165.38 L53.17,164.56 L53.90,163.75 L54.65,162.95 L55.41,162.17 L56.17,161.40 L56.95,160.63 L57.73,159.88 L58.53,159.14 L59.33,158.40 L60.13,157.67 L60.95,156.95 L61.77,156.24 L62.60,155.54 L63.43,154.84 L64.27,154.15 L65.11,153.46 L65.96,152.78 L66.81,152.11 L67.67,151.44 L68.53,150.78 L69.39,150.12 L70.26,149.46 L71.13,148.81 L72.01,148.17 L72.89,147.52 L73.77,146.88 L74.65,146.24 L75.54,145.61 L76.42,144.97 L77.31,144.34 L78.20,143.71 L79.10,143.08 L79.99,142.45 L80.89,141.82 L81.78,141.20 L82.68,140.57 L83.58,139.94 L84.47,139.31 L85.37,138.68 L86.27,138.05 L87.16,137.42 L88.06,136.78 L88.95,136.14 L89.84,135.51 L90.74,134.86 L91.63,134.22 L92.52,133.57 L93.41,132.93 L94.30,132.28 L95.19,131.63 L96.08,130.98 L96.97,130.33 L97.86,129.68 L98.75,129.03 L99.64,128.39 L100.53,127.75 L101.43,127.10 L102.33,126.47 L103.23,125.83 L104.13,125.20 L105.03,124.57 L105.94,123.95 L106.85,123.33 L107.77,122.72 L108.69,122.11 L109.61,121.51 L110.53,120.91 L111.47,120.33 L112.40,119.75 L113.34,119.17 L114.29,118.61 L115.24,118.05 L116.19,117.51 L117.16,116.97 L118.12,116.44 L119.10,115.93 L120.08,115.42 L121.06,114.93 L122.05,114.45 L123.05,113.98 L124.05,113.52 L125.06,113.08 L126.07,112.65 L127.08,112.24 L128.10,111.85 L129.13,111.47 L130.16,111.11 L131.19,110.76 L132.22,110.43 L133.26,110.13 L134.31,109.84 L135.35,109.57 L136.40,109.32 L137.45,109.10 L138.51,108.89 L139.57,108.70 L140.63,108.53 L141.69,108.37 L142.75,108.24 L143.82,108.12 L144.89,108.02 L145.96,107.94 L147.04,107.87 L148.11,107.82 L149.19,107.78 L150.27,107.76 L151.35,107.75 L152.43,107.76 L153.52,107.78 L154.60,107.81 L155.69,107.86 L156.78,107.92 L157.86,108.00 L158.95,108.08 L160.04,108.18 L161.13,108.28 L162.22,108.40 L163.32,108.53 L164.41,108.67 L165.50,108.82 L166.59,108.97 L167.68,109.14 L168.77,109.31 L169.87,109.49 L170.96,109.68 L172.05,109.88 L173.14,110.08 L174.23,110.29 L175.32,110.51 L176.40,110.73 L177.49,110.95 L178.58,111.21 L179.66,111.50 L180.74,111.79 L181.83,112.09 L182.91,112.39 L183.99,112.69 L185.06,113.00 L186.14,113.31 L187.21,113.61 L188.28,113.92 L189.35,114.23 L190.42,114.55 L191.49,114.86 L192.55,115.17 L193.62,115.48 L194.68,115.79 L195.74,116.10 L196.80,116.41 L197.86,116.71 L198.93,117.01 L199.99,117.32 L201.04,117.62 L202.10,117.91 L203.16,118.20 L204.22,118.49 L205.28,118.78 L206.34,119.06 L207.40,119.33 L208.46,119.61 L209.53,119.87 L210.59,120.13 L211.65,120.39 L212.72,120.60 L213.78,120.79 L214.85,120.97 L215.92,121.14 L216.99,121.31 L218.06,121.47 L219.13,121.62 L220.21,121.76 L221.29,121.90 L222.37,122.02 L223.45,122.13 L224.54,122.24 L225.62,122.33 L226.71,122.42 L227.81,122.49 L228.90,122.55 L230.00,122.60 L231.10,122.64 L232.21,122.67 L233.32,122.68 L234.43,122.69 L235.55,122.67 L236.67,122.65 L237.79,122.61 L238.92,122.56 L240.06,122.49" stroke="#008000" stroke-width="1" stroke-dasharray="1.1 2.2" opacity="0.7"/>
<path d="M90.62,231.03 L91.03,229.78 L91.45,228.53 L91.87,227.29 L92.31,226.06 L92.75,224.82 L93.20,223.59 L93.66,222.37 L94.13,221.15 L94.60,219.93 L95.09,218.72 L95.58,217.51 L96.08,216.30 L96.58,215.10 L97.10,213.90 L97.62,212.70 L98.15,211.51 L98.69,210.33 L99.23,209.14 L99.78,207.96 L100.34,206.78 L100.91,205.61 L101.48,204.44 L102.06,203.27 L102.65,202.11 L103.25,200.95 L103.85,199.80 L104.45,198.64 L105.07,197.49 L105.69,196.35 L106.32,195.21 L106.95,194.07 L107.59,192.93 L108.24,191.80 L108.89,190.67 L109.55,189.54 L110.21,188.42 L110.88,187.30 L111.56,186.19 L112.24,185.07 L112.93,183.96 L113.62,182.86 L114.32,181.75 L115.02,180.65 L115.74,179.56 L116.45,178.47 L117.18,177.38 L117.91,176.30 L118.65,175.22 L119.39,174.15 L120.14,173.08 L120.90,172.01 L121.67,170.96 L122.44,169.90 L123.22,168.85 L124.01,167.81 L124.80,166.78 L125.61,165.75 L126.42,164.72 L127.24,163.70 L128.06,162.69 L128.90,161.69 L129.74,160.69 L130.59,159.70 L131.45,158.72 L132.32,157.74 L133.20,156.77 L134.09,155.81 L134.99,154.86 L135.89,153.91 L136.81,152.98 L137.73,152.05 L138.66,151.13 L139.61,150.22 L140.56,149.31 L141.52,148.42 L142.50,147.54 L143.48,146.66 L144.47,145.80 L145.47,144.95 L146.48,144.11 L147.50,143.29 L148.52,142.47 L149.56,141.67 L150.61,140.88 L151.66,140.11 L152.73,139.35 L153.80,138.60 L154.88,137.87 L155.97,137.15 L157.07,136.45 L158.18,135.77 L159.30,135.11 L160.42,134.46 L161.56,133.82 L162.70,133.21 L163.85,132.62 L165.01,132.04 L166.18,131.48 L167.36,130.95 L168.54,130.43 L169.73,129.93 L170.93,129.46 L172.14,129.00 L173.36,128.57 L174.58,128.16 L175.82,127.77 L177.06,127.41 L178.30,127.07 L179.56,126.75 L180.82,126.46 L182.09,126.18 L183.37,125.93 L184.65,125.69 L185.93,125.47 L187.22,125.28 L188.52,125.09 L189.82,124.93 L191.12,124.78 L192.42,124.64 L193.73,124.52 L195.04,124.41 L196.36,124.31 L197.67,124.23 L198.98,124.15 L200.30,124.09 L201.62,124.03 L202.93,123.99 L204.25,123.95 L205.56,123.92 L206.88,123.89 L208.20,123.87 L209.51,123.85 L210.83,123.84 L212.15,123.83 L213.46,123.83 L214.78,123.83 L216.09,123.82 L217.41,123.82 L218.72,123.82 L220.03,123.82 L221.34,123.82 L222.66,123.81 L223.97,123.80 L225.28,123.79 L226.58,123.77 L227.89,123.75 L229.20,123.73 L230.50,123.69 L231.81,123.65 L233.11,123.60 L234.41,123.55 L235.71,123.48 L237.01,123.41 L238.30,123.32 L239.60,123.22 L240.89,123.12 L242.18,123.00 L243.47,122.87 L244.76,122.74 L246.05,122.59 L247.34,122.44 L248.62,122.28 L249.91,122.12 L251.19,121.94 L252.48,121.77 L253.76,121.59 L255.05,121.40 L256.33,121.21 L257.61,121.02 L258.90,120.82 L260.18,120.63 L261.47,120.43 L262.76,120.23 L264.04,120.03 L265.33,119.83 L266.62,119.63 L267.91,119.43 L269.20,119.24 L270.49,119.04 L271.79,118.85 L273.08,118.67 L274.38,118.49 L275.68,118.31 L276.98,118.14 L278.29,117.97 L279.59,117.81 L280.90,117.66 L282.21,117.52 L283.53,117.38 L284.84,117.25 L286.16,117.14 L287.48,117.03 L288.80,116.94 L290.12,116.85 L291.43,116.79 L292.75,116.73 L294.07,116.69 L295.39,116.67 L296.70,116.66 L298.01,116.67 L299.32,116.70 L300.63,116.74 L301.94,116.81 L303.24,116.89 L304.53,117.00 L305.83,117.13 L307.11,117.29 L308.40,117.46 L309.67,117.66 L310.94,117.89 L312.21,118.14 L313.47,118.42 L314.72,118.73 L315.96,119.06 L317.20,119.43 L318.43,119.82 L319.64,120.25 L320.85,120.70 L322.05,121.19 L323.24,121.70 L324.41,122.24 L325.58,122.81 L326.73,123.41 L327.86,124.04 L328.98,124.69 L330.09,125.38 L331.18,126.09 L332.25,126.83 L333.30,127.60 L334.34,128.39 L335.36,129.21 L336.36,130.06 L337.34,130.93 L338.30,131.82 L339.24,132.74 L340.16,133.68 L341.06,134.64 L341.94,135.62 L342.80,136.62 L343.63,137.64 L344.44,138.68 L345.23,139.73 L346.00,140.80 L346.75,141.89 L347.47,143.00 L348.17,144.11 L348.84,145.24 L349.50,146.38 L350.13,147.54 L350.73,148.70 L351.32,149.88 L351.87,151.06 L352.41,152.25 L352.92,153.44 L353.41,154.65 L353.87,155.86 L354.30,157.07 L354.72,158.28 L355.10,159.50 L357.42,162.67 L358.70,163.08 L359.97,163.49 L361.24,163.92 L362.51,164.35 L363.78,164.79 L365.05,165.24 L366.31,165.70 L367.57,166.16 L368.82,166.64 L370.08,167.13 L371.33,167.63 L372.58,168.13 L373.82,168.65 L375.06,169.19 L376.30,169.73 L377.54,170.28 L378.77,170.85 L380.00,171.43" stroke="#0000ff" stroke-width="1.35"/>
<path d="M90.58,231.01 L91.02,229.74 L91.46,228.46 L91.92,227.19 L92.38,225.92 L92.85,224.66 L93.32,223.40 L93.80,222.14 L94.29,220.88 L94.79,219.63 L95.29,218.38 L95.80,217.13 L96.32,215.89 L96.84,214.65 L97.37,213.41 L97.91,212.18 L98.46,210.95 L99.01,209.73 L99.57,208.51 L100.13,207.29 L100.71,206.07 L101.29,204.86 L101.88,203.66 L102.47,202.45 L103.07,201.25 L103.68,200.06 L104.30,198.87 L104.92,197.68 L105.55,196.49 L106.19,195.32 L106.84,194.14 L107.49,192.97 L108.15,191.80 L108.82,190.64 L109.49,189.48 L110.17,188.33 L110.86,187.18 L111.56,186.03 L112.26,184.89 L112.98,183.75 L113.69,182.62 L114.42,181.49 L115.15,180.37 L115.90,179.25 L116.64,178.14 L117.40,177.03 L118.16,175.93 L118.94,174.83 L119.71,173.73 L120.50,172.64 L121.29,171.56 L122.10,170.48 L122.90,169.40 L123.72,168.34 L124.54,167.27 L125.38,166.21 L126.22,165.16 L127.06,164.11 L127.92,163.07 L128.78,162.03 L129.65,161.00 L130.53,159.97 L131.41,158.95 L132.30,157.93 L133.21,156.92 L134.11,155.92 L135.03,154.92 L135.96,153.93 L136.89,152.95 L137.83,151.98 L138.79,151.02 L139.75,150.07 L140.72,149.13 L141.70,148.20 L142.69,147.28 L143.69,146.38 L144.70,145.49 L145.72,144.61 L146.76,143.75 L147.80,142.90 L148.85,142.07 L149.92,141.26 L151.00,140.46 L152.09,139.68 L153.19,138.91 L154.30,138.17 L155.42,137.45 L156.56,136.74 L157.71,136.06 L158.87,135.39 L160.05,134.75 L161.24,134.13 L162.44,133.54 L163.65,132.96 L164.88,132.41 L166.12,131.89 L167.36,131.38 L168.62,130.90 L169.88,130.44 L171.16,130.01 L172.44,129.60 L173.73,129.21 L175.03,128.85 L176.33,128.51 L177.63,128.19 L178.95,127.90 L180.26,127.63 L181.58,127.39 L182.91,127.18 L184.23,126.98 L185.56,126.82 L186.89,126.68 L188.22,126.56 L189.55,126.47 L190.88,126.40 L192.22,126.35 L193.55,126.32 L194.88,126.32 L196.22,126.34 L197.55,126.37 L198.89,126.43 L200.22,126.50 L201.56,126.59 L202.90,126.70 L204.23,126.82 L205.57,126.96 L206.91,127.11 L208.24,127.28 L209.58,127.46 L210.92,127.65 L212.25,127.85 L213.59,128.07 L214.92,128.30 L216.26,128.53 L217.59,128.77 L218.92,129.02 L220.26,129.28 L221.59,129.55 L222.92,129.82 L224.25,130.10 L225.58,130.38 L226.90,130.66 L228.23,130.95 L229.55,131.24 L230.88,131.53 L232.20,131.82 L233.52,132.11 L234.84,132.41 L236.15,132.70 L237.47,132.99 L238.79,133.28 L240.10,133.58 L241.41,133.87 L242.72,134.16 L244.03,134.46 L245.34,134.75 L246.65,135.05 L247.96,135.34 L249.27,135.64 L250.57,135.93 L251.88,136.23 L253.19,136.52 L254.49,136.82 L255.79,137.12 L257.10,137.41 L258.40,137.71 L259.71,138.01 L261.01,138.31 L262.31,138.61 L263.62,138.91 L264.92,139.21 L266.23,139.51 L267.53,139.81 L268.83,140.11 L270.14,140.42 L271.44,140.72 L272.75,141.03 L274.05,141.33 L275.36,141.64 L276.67,141.94 L277.97,142.25 L279.28,142.56 L280.59,142.87 L281.89,143.18 L283.20,143.49 L284.51,143.80 L285.82,144.11 L287.13,144.42 L288.43,144.74 L289.74,145.05 L291.05,145.36 L292.36,145.68 L293.67,145.99 L294.98,146.31 L296.29,146.63 L297.60,146.95 L298.90,147.26 L300.21,147.58 L301.52,147.90 L302.83,148.22 L304.14,148.54 L305.45,148.87 L306.76,149.19 L308.06,149.51 L309.37,149.84 L310.68,150.16 L311.99,150.49 L313.29,150.82 L314.60,151.14 L315.91,151.47 L317.21,151.80 L318.52,152.13 L319.83,152.46 L321.13,152.79 L322.44,153.12 L323.74,153.45 L325.05,153.79 L326.35,154.12 L327.66,154.46 L328.96,154.79 L330.26,155.13 L331.56,155.46 L332.87,155.80 L334.17,156.14 L335.47,156.48 L336.77,156.82 L338.07,157.16 L339.37,157.50 L340.66,157.85 L341.96,158.19 L343.26,158.54 L344.55,158.90 L345.85,159.25 L347.14,159.61 L348.43,159.98 L349.72,160.35 L351.01,160.72 L352.29,161.10 L353.58,161.48 L354.86,161.87 L356.14,162.27 L357.42,162.67 L358.70,163.08 L359.97,163.49 L361.24,163.92 L362.51,164.35 L363.78,164.79 L365.05,165.24 L366.31,165.70 L367.57,166.16 L368.82,166.64 L370.08,167.13 L371.33,167.63 L372.58,168.13 L373.82,168.65 L375.06,169.19 L376.30,169.73 L377.54,170.28 L378.77,170.85 L380.00,171.43" stroke="#0000ff" stroke-width="1.35" stroke-dasharray="9 4.5" stroke-dashoffset="12.85"/>
<path d="M162.63,230.03 L163.37,229.04 L164.11,228.05 L164.86,227.06 L165.60,226.08 L166.35,225.10 L167.11,224.13 L167.86,223.15 L168.62,222.18 L169.38,221.21 L170.15,220.24 L170.91,219.28 L171.68,218.31 L172.45,217.35 L173.22,216.39 L173.99,215.43 L174.77,214.47 L175.54,213.51 L176.32,212.56 L177.09,211.60 L177.87,210.65 L178.65,209.69 L179.43,208.73 L180.21,207.78 L180.98,206.82 L181.76,205.87 L182.54,204.91 L183.32,203.95 L184.09,202.99 L184.87,202.03 L185.64,201.07 L186.41,200.11 L187.19,199.15 L187.96,198.18 L188.73,197.22 L189.49,196.25 L190.26,195.28 L191.03,194.31 L191.80,193.35 L192.58,192.39 L193.36,191.43 L194.14,190.48 L194.93,189.53 L195.73,188.59 L196.54,187.67 L197.36,186.75 L198.19,185.84 L199.03,184.94 L199.88,184.05 L200.74,183.17 L201.61,182.30 L202.48,181.43 L203.36,180.57 L204.24,179.71 L205.13,178.86 L206.02,178.01 L206.92,177.17 L207.82,176.33 L208.72,175.49 L209.62,174.65 L210.53,173.81 L211.43,172.97 L212.33,172.13 L213.24,171.29 L214.14,170.46 L215.05,169.62 L215.96,168.78 L216.87,167.95 L217.78,167.11 L218.69,166.28 L219.60,165.45 L220.51,164.62 L221.43,163.79 L222.35,162.97 L223.27,162.14 L224.19,161.32 L225.11,160.50 L226.03,159.68 L226.96,158.87 L227.89,158.05 L228.82,157.24 L229.75,156.43 L230.69,155.63 L231.62,154.83 L232.56,154.03 L233.51,153.23 L234.45,152.44 L235.40,151.65 L236.35,150.87 L237.31,150.09 L238.26,149.31 L239.22,148.54 L240.19,147.77 L241.16,147.01 L242.13,146.25 L243.10,145.49 L244.08,144.74 L245.06,144.00 L246.05,143.26 L247.04,142.53 L248.03,141.81 L249.03,141.09 L250.04,140.38 L251.05,139.68 L252.06,138.99 L253.09,138.30 L254.11,137.62 L255.14,136.96 L256.18,136.30 L257.23,135.65 L258.28,135.01 L259.33,134.38 L260.40,133.77 L261.47,133.16 L262.55,132.57 L263.63,131.99 L264.72,131.42 L265.82,130.86 L266.93,130.32 L268.05,129.79 L269.17,129.27 L270.30,128.77 L271.44,128.28 L272.59,127.81 L273.74,127.36 L274.90,126.92 L276.07,126.50 L277.24,126.10 L278.42,125.72 L279.61,125.36 L280.80,125.02 L281.99,124.70 L283.19,124.40 L284.39,124.13 L285.60,123.88 L286.81,123.65 L288.03,123.45 L289.25,123.27 L290.47,123.12 L291.69,123.00 L292.92,122.89 L294.15,122.81 L295.38,122.75 L296.61,122.71 L297.84,122.69 L299.07,122.69 L300.30,122.70 L301.53,122.74 L302.75,122.79 L303.98,122.85 L305.21,122.94 L306.43,123.05 L307.65,123.18 L308.87,123.32 L310.09,123.49 L311.30,123.68 L312.51,123.90 L313.72,124.13 L314.92,124.39 L316.12,124.68 L317.31,124.98 L318.50,125.32 L319.69,125.68 L320.86,126.06 L322.03,126.47 L323.20,126.91 L324.35,127.37 L325.50,127.86 L326.63,128.37 L327.76,128.91 L328.87,129.49 L329.97,130.09 L331.05,130.71 L332.11,131.37 L333.15,132.06 L334.15,132.78 L335.13,133.53 L336.07,134.32 L336.98,135.13 L337.86,135.98 L338.71,136.85 L339.52,137.75 L340.31,138.67 L341.06,139.62 L341.78,140.60 L342.48,141.60 L343.14,142.61 L343.78,143.65 L344.39,144.71 L344.97,145.79 L345.52,146.89 L346.05,148.00 L346.54,149.12 L347.02,150.26 L347.46,151.42 L347.88,152.58 L348.28,153.76 L348.65,154.94 L348.99,156.13 L349.31,157.33 L349.61,158.54 L349.88,159.75 L350.13,160.97 L350.36,162.18 L350.57,163.40 L350.76,164.63 L350.93,165.85 L351.08,167.08 L351.21,168.30 L351.33,169.53 L351.44,170.76 L351.53,171.99 L351.62,173.23 L351.69,174.46 L351.76,175.69 L351.82,176.93 L351.87,178.16 L351.92,179.40 L351.97,180.63 L352.02,181.87 L352.07,183.10 L352.12,184.34 L352.17,185.57 L352.23,186.81 L352.29,188.04 L352.36,189.27 L352.44,190.50 L352.53,191.73 L352.62,192.96 L352.72,194.19 L352.83,195.42 L352.95,196.65 L353.07,197.87 L353.20,199.10 L353.33,200.32 L353.47,201.55 L353.61,202.77 L353.75,204.00 L353.89,205.22 L354.04,206.44 L354.18,207.67 L354.33,208.89 L354.47,210.11 L354.62,211.34 L354.76,212.56 L354.90,213.79 L355.03,215.01 L355.16,216.24 L355.29,217.46 L355.41,218.69 L355.52,219.92 L355.63,221.14 L355.73,222.37 L355.83,223.60 L355.91,224.83 L355.99,226.07 L356.05,227.30 L356.11,228.53 L356.15,229.77 L356.18,231.00" stroke="#0000ff" stroke-width="1.35" stroke-dasharray="13.611 3.642 2.109 3.642" stroke-dashoffset="18.27"/>
<path d="M45.92,176.00 L46.51,175.04 L47.11,174.10 L47.73,173.17 L48.36,172.26 L49.01,171.36 L49.67,170.48 L50.35,169.61 L51.03,168.75 L51.73,167.91 L52.45,167.08 L53.17,166.26 L53.90,165.45 L54.65,164.65 L55.41,163.87 L56.17,163.10 L56.95,162.33 L57.73,161.58 L58.53,160.84 L59.33,160.10 L60.13,159.37 L60.95,158.65 L61.77,157.94 L62.60,157.24 L63.43,156.54 L64.27,155.85 L65.11,155.16 L65.96,154.48 L66.81,153.81 L67.67,153.14 L68.53,152.48 L69.39,151.82 L70.26,151.16 L71.13,150.51 L72.01,149.87 L72.89,149.22 L73.77,148.58 L74.65,147.94 L75.54,147.31 L76.42,146.67 L77.31,146.04 L78.20,145.41 L79.10,144.78 L79.99,144.15 L80.89,143.52 L81.78,142.90 L82.68,142.27 L83.58,141.64 L84.47,141.01 L85.37,140.38 L86.27,139.75 L87.16,139.12 L88.06,138.48 L88.95,137.84 L89.84,137.21 L90.74,136.56 L91.63,135.92 L92.52,135.27 L93.41,134.63 L94.30,133.98 L95.19,133.33 L96.08,132.68 L96.97,132.03 L97.86,131.38 L98.75,130.73 L99.64,130.09 L100.53,129.45 L101.43,128.80 L102.33,128.17 L103.23,127.53 L104.13,126.90 L105.03,126.27 L105.94,125.65 L106.85,125.03 L107.77,124.42 L108.69,123.81 L109.61,123.21 L110.53,122.61 L111.47,122.03 L112.40,121.45 L113.34,120.87 L114.29,120.31 L115.24,119.75 L116.19,119.21 L117.16,118.67 L118.12,118.14 L119.10,117.63 L120.08,117.12 L121.06,116.63 L122.05,116.15 L123.05,115.68 L124.05,115.22 L125.06,114.78 L126.07,114.35 L127.08,113.94 L128.10,113.55 L129.13,113.17 L130.16,112.81 L131.19,112.46 L132.22,112.13 L133.26,111.83 L134.31,111.54 L135.35,111.27 L136.40,111.02 L137.45,110.80 L138.51,110.59 L139.57,110.40 L140.63,110.23 L141.69,110.07 L142.75,109.94 L143.82,109.82 L144.89,109.72 L145.96,109.64 L147.04,109.57 L148.11,109.52 L149.19,109.48 L150.27,109.46 L151.35,109.45 L152.43,109.46 L153.52,109.48 L154.60,109.51 L155.69,109.56 L156.78,109.62 L157.86,109.70 L158.95,109.78 L160.04,109.88 L161.13,109.98 L162.22,110.10 L163.32,110.23 L164.41,110.37 L165.50,110.52 L166.59,110.67 L167.68,110.84 L168.77,111.01 L169.87,111.19 L170.96,111.38 L172.05,111.58 L173.14,111.78 L174.23,111.99 L175.32,112.21 L176.40,112.43 L177.49,112.65 L178.58,112.88 L179.66,113.12 L180.74,113.36 L181.83,113.60 L182.91,113.85 L183.99,114.10 L185.06,114.35 L186.14,114.60 L187.21,114.85 L188.28,115.11 L189.35,115.37 L190.42,115.62 L191.49,115.88 L192.55,116.14 L193.62,116.40 L194.68,116.65 L195.74,116.91 L196.80,117.16 L197.86,117.42 L198.93,117.67 L199.99,117.92 L201.04,118.16 L202.10,118.41 L203.16,118.65 L204.22,118.88 L205.28,119.11 L206.34,119.34 L207.40,119.56 L208.46,119.78 L209.53,120.00 L210.59,120.20 L211.65,120.40 L212.72,120.60 L213.78,120.79 L214.85,120.97 L215.92,121.14 L216.99,121.31 L218.06,121.47 L219.13,121.62 L220.21,121.76 L221.29,121.90 L222.37,122.02 L223.45,122.13 L224.54,122.24 L225.62,122.33 L226.71,122.42 L227.81,122.49 L228.90,122.55 L230.00,122.60 L231.10,122.64 L232.21,122.67 L233.32,122.68 L234.43,122.69 L235.55,122.67 L236.67,122.65 L237.79,122.61 L238.92,122.56 L240.06,122.49" stroke="#0000ff" stroke-width="1" stroke-dasharray="1.1 2.2" opacity="0.7"/>
<path d="M322.80,138.00 L325.00,143.60 L327.60,150.80 L328.60,152.80" stroke="#008000" stroke-width="1" stroke-dasharray="1.1 2.2" opacity="0.5"/>
<path d="M351.50,143.00 L353.80,149.00 L358.30,159.70 L359.80,162.80" stroke="#0000ff" stroke-width="1" stroke-dasharray="1.1 2.2" opacity="0.5"/>
</g>
<g stroke="#000" stroke-width="1" fill="none">
<path d="M47,33.5 H379.5"/>
<path d="M47,227 H379.5"/>
<path d="M47.5,33 V227.5"/>
<path d="M379,33 V227.5"/>
</g>
<g font-family="Liberation Sans, sans-serif" font-size="11" fill="#000">
<text x="41.2" y="232.0" text-anchor="end">10<tspan dy="-5.2" font-size="9.4">-1</tspan></text>
<text x="47.7" y="246.0" text-anchor="middle">10<tspan dy="-5.2" font-size="9.4">-1</tspan></text>
<text x="41.2" y="183.6" text-anchor="end">10<tspan dy="-5.2" font-size="9.4">0</tspan></text>
<text x="124.8" y="246.0" text-anchor="middle">10<tspan dy="-5.2" font-size="9.4">0</tspan></text>
<text x="41.2" y="135.2" text-anchor="end">10<tspan dy="-5.2" font-size="9.4">1</tspan></text>
<text x="201.8" y="246.0" text-anchor="middle">10<tspan dy="-5.2" font-size="9.4">1</tspan></text>
<text x="41.2" y="86.9" text-anchor="end">10<tspan dy="-5.2" font-size="9.4">2</tspan></text>
<text x="278.9" y="246.0" text-anchor="middle">10<tspan dy="-5.2" font-size="9.4">2</tspan></text>
<text x="41.2" y="38.5" text-anchor="end">10<tspan dy="-5.2" font-size="9.4">3</tspan></text>
<text x="356.0" y="246.0" text-anchor="middle">10<tspan dy="-5.2" font-size="9.4">3</tspan></text>
<text x="213.7" y="21.8" text-anchor="middle">e<tspan dy="-5.2" font-size="9.4">+</tspan></text>
<text x="213.3" y="262.8" text-anchor="middle">E<tspan dy="2.5" font-size="9">k</tspan><tspan dy="-2.5">(GeV)</tspan></text>
<text transform="translate(13.8,129.6) rotate(-90)" text-anchor="middle">E<tspan dy="-6.2" font-size="9.3">3</tspan><tspan dy="6.2">dN/dE(GeV</tspan><tspan dy="-6.2" font-size="9.3">2</tspan><tspan dy="6.2">m</tspan><tspan dy="-6.2" font-size="9.3">-2</tspan><tspan dy="6.2">s</tspan><tspan dy="-6.2" font-size="9.3">-1</tspan><tspan dy="6.2">sr</tspan><tspan dy="-6.2" font-size="9.3">-1</tspan><tspan dy="6.2">)</tspan></text>
<text x="97.8" y="55">AMS02</text>
<text x="97.8" y="68.7">total</text>
<text x="97.8" y="82.2">secondary</text>
<text x="329" y="55" text-anchor="end">extra</text>
<text x="329" y="68.7" text-anchor="end">LIS</text>
<text x="201.2" y="54.8" font-size="15" letter-spacing="0.45" fill="#ff0000">PSR</text>
<text x="201.5" y="69.6" font-size="16.5" font-family="Liberation Serif, serif" stroke-width="0.45" stroke="#008000" fill="#008000">μ</text>
<text x="201.5" y="83.9" font-size="16.5" font-family="Liberation Serif, serif" stroke-width="0.45" stroke="#0000ff" fill="#0000ff">τ</text>
</g>
<g fill="none">
<path d="M60.5,52 H91.5 M60.5,50.5 v3 M91.5,50.5 v3" stroke="#8b008b" stroke-width="1"/>
<rect x="73.3" y="49.3" width="5.4" height="5.4" fill="#8b008b"/>
<path d="M60.5,65.2 H91.5" stroke="#333" stroke-width="1.5"/>
<path d="M61,78.5 H91.5" stroke="#222" stroke-width="1.15" stroke-dasharray="8.5 3"/>
<path d="M335.5,52 H366" stroke="#000" stroke-width="1.4" stroke-dasharray="14.2 3.8 2.2 3.8"/>
<path d="M335.5,65.2 H366" stroke="#999" stroke-width="1" stroke-dasharray="1 2.2"/>
</g>
</svg>
</body></html>
